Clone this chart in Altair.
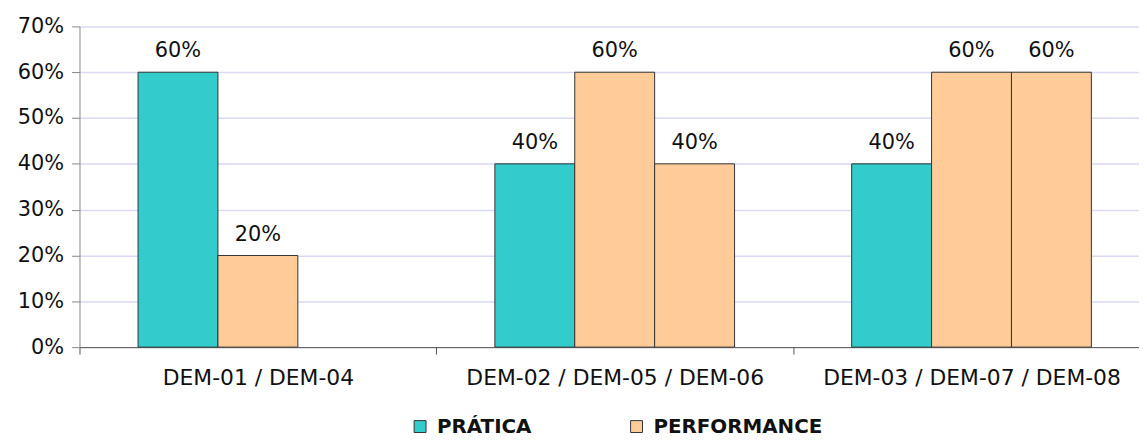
import altair as alt
import pandas as pd

categories = ["DEM-01 / DEM-04", "DEM-02 / DEM-05 / DEM-06", "DEM-03 / DEM-07 / DEM-08"]
series_names = ["PRÁTICA", "PERFORMANCE"]
series_colors = ["#33CCCC", "#FFCC99"]

bar_group = [0, 0, 1, 1, 1, 2, 2, 2]
bar_slot = [0, 1, 0, 1, 2, 0, 1, 2]
bar_series = ["PRÁTICA", "PERFORMANCE", "PRÁTICA", "PERFORMANCE", "PERFORMANCE",
              "PRÁTICA", "PERFORMANCE", "PERFORMANCE"]
bar_values = [0.60, 0.20, 0.40, 0.60, 0.40, 0.40, 0.60, 0.60]

y_ticks = [0, 0.1, 0.2, 0.3, 0.4, 0.5, 0.6, 0.7]

df = pd.DataFrame({
    "group": [categories[g] for g in bar_group],
    "slot": bar_slot,
    "series": bar_series,
    "value": bar_values,
})

FONT = "DejaVu Sans"

x_enc = alt.X(
    "group:N",
    sort=categories,
    scale=alt.Scale(domain=categories, paddingInner=0, paddingOuter=0, range=[0, 1078]),
    axis=alt.Axis(
        title=None, labelAngle=0, tickBand="extent", domainColor="#555555",
        tickColor="#555555", tickSize=7, labelFont=FONT, labelFontSize=22,
        labelColor="#111111", labelPadding=14, grid=False, labelLimit=0,
    ),
)
xoff_enc = alt.XOffset(
    "slot:O",
    scale=alt.Scale(domain=[0, 1, 2], paddingInner=0, paddingOuter=0.733),
)
y_enc = alt.Y(
    "value:Q",
    scale=alt.Scale(domain=[0, 0.7], nice=False),
    axis=alt.Axis(
        title=None, values=y_ticks, format=".0%", domainColor="#888888",
        tickColor="#888888", tickSize=8, labelFont=FONT, labelFontSize=21,
        labelColor="#111111", labelPadding=8, gridColor="#DADAF4", gridWidth=1.5,
    ),
)

bars = alt.Chart(df).mark_bar(stroke="#333333", strokeWidth=1).encode(
    x=x_enc,
    xOffset=xoff_enc,
    y=y_enc,
    color=alt.Color(
        "series:N",
        scale=alt.Scale(domain=series_names, range=series_colors),
        legend=alt.Legend(
            title=None, orient="none", legendX=333, legendY=393, direction="horizontal",
            symbolType="square", symbolSize=144, symbolStrokeColor="#333333",
            symbolStrokeWidth=1, labelFont=FONT, labelFontSize=20, labelFontWeight="bold",
            labelColor="#111111", columnPadding=95, labelOffset=7, padding=0,
            labelLimit=0,
        ),
    ),
)

labels = alt.Chart(df).mark_text(
    font=FONT, fontSize=21, color="#111111", baseline="alphabetic", dy=-15,
).encode(
    x=alt.X("group:N", sort=categories),
    xOffset=alt.XOffset("slot:O"),
    y=alt.Y("value:Q"),
    text=alt.Text("value:Q", format=".0%"),
)

chart = (bars + labels).properties(
    width=1067,
    height=323,
    autosize=alt.AutoSizeParams(type="none"),
    padding={"left": 72, "top": 17, "right": 0, "bottom": 93},
    background="white",
).configure_view(stroke=None)

chart.save("out.html", embed_options={"renderer": "svg", "actions": False})
